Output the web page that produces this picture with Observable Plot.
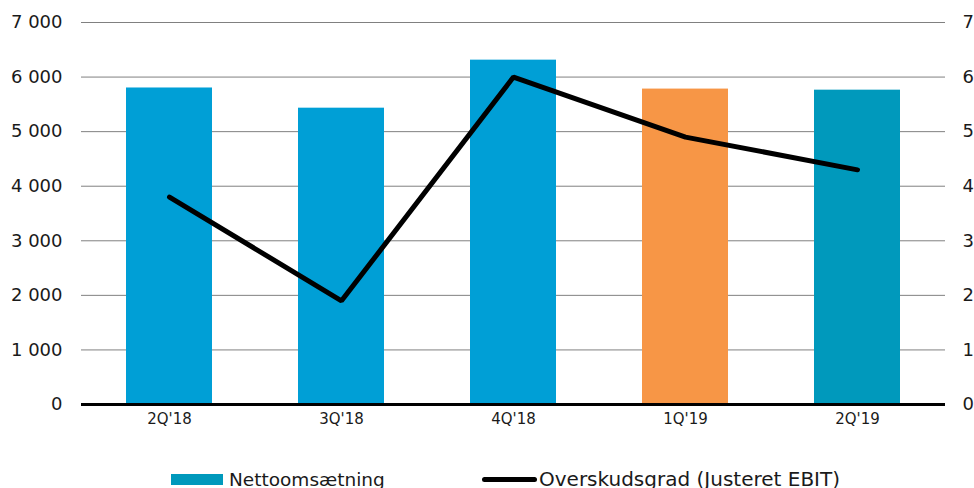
<!DOCTYPE html>
<html>
<head>
<meta charset="utf-8">
<script src="https://cdn.jsdelivr.net/npm/d3@7"></script>
<script src="https://cdn.jsdelivr.net/npm/@observablehq/plot@0.6"></script>
<style>
  html, body { margin: 0; padding: 0; background: #fff; overflow: hidden; }
  body { width: 974px; height: 488px; font-family: "DejaVu Sans", Verdana, sans-serif; color: #1a1a1a; }
  #chart svg { display: block; }
  #legend { position: relative; height: 38px; }
  .item { position: absolute; top: 18px; height: 22px; display: flex; align-items: center; white-space: nowrap; }
  .sw-bar { width: 52px; height: 11px; background: #0099bc; margin-right: 6px; }
  .sw-line { width: 55px; height: 5px; background: #000; border-radius: 3px; margin-right: 2px; }
</style>
</head>
<body>
<div id="chart"></div>
<div id="legend">
  <div class="item" style="left:171px; font-size:18.5px"><span class="sw-bar"></span><span>Nettoomsætning</span></div>
  <div class="item" style="left:482px; font-size:20px"><span class="sw-line"></span><span>Overskudsgrad (Justeret EBIT)</span></div>
</div>
<script>
const quarters = ["2Q'18", "3Q'18", "4Q'18", "1Q'19", "2Q'19"];
const revenue = [5800, 5430, 6310, 5780, 5760];
const margin = [3.8, 1.9, 6.0, 4.9, 4.3];
const barColors = ["#009fd6", "#009fd6", "#009fd6", "#f79646", "#0099bc"];
const leftTicks = [0, 1000, 2000, 3000, 4000, 5000, 6000, 7000];
const rightTicks = [0, 1, 2, 3, 4, 5, 6, 7];

const data = quarters.map((q, i) => ({q, revenue: revenue[i], margin: margin[i], color: barColors[i]}));
const fmt = d => d3.format(",")(d).replace(/,/g, " ");

const chart = Plot.plot({
  width: 974,
  height: 450,
  marginLeft: 81,
  marginRight: 29,
  marginTop: 22,
  marginBottom: 46,
  style: {fontFamily: "DejaVu Sans, Verdana, sans-serif", color: "#1a1a1a", background: "#fff"},
  x: {domain: quarters, paddingInner: 0.5, paddingOuter: 0.25, label: null},
  y: {domain: [0, 7000], label: null},
  marks: [
    Plot.gridY(leftTicks, {stroke: "#808080", strokeOpacity: 1, strokeWidth: 1}),
    Plot.barY(data, {x: "q", y: "revenue", fill: "color"}),
    Plot.ruleY([0], {stroke: "#000", strokeWidth: 3}),
    Plot.lineY(data, {x: "q", y: d => d.margin * 1000, stroke: "#000", strokeWidth: 5, strokeLinecap: "round", strokeLinejoin: "miter"}),
    Plot.axisY(leftTicks, {anchor: "left", tickSize: 0, tickPadding: 19, tickFormat: fmt, fontSize: 18, label: null}),
    Plot.axisY(rightTicks.map(d => d * 1000), {anchor: "right", tickSize: 0, tickPadding: 17, tickFormat: d => String(d / 1000), fontSize: 18, label: null}),
    Plot.axisX({tickSize: 0, tickPadding: 9, fontSize: 15, label: null})
  ]
});
document.getElementById("chart").appendChild(chart);
</script>
</body>
</html>
